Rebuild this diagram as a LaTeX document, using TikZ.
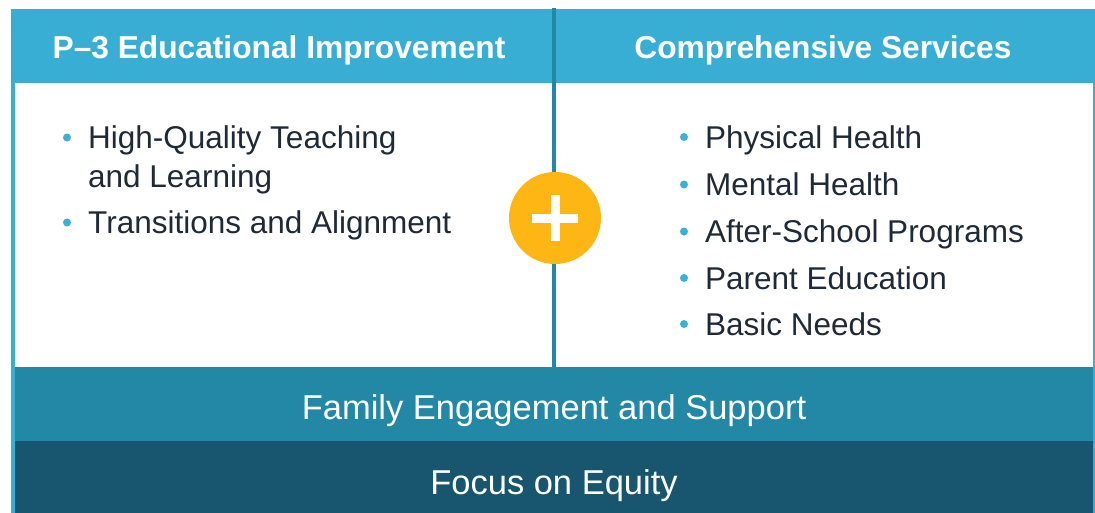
\documentclass[tikz,border=0pt]{standalone}
\usepackage{fontspec}
\setmainfont{Liberation Sans}
\definecolor{hdr}{HTML}{39AED5}
\definecolor{band}{HTML}{2387A6}
\definecolor{deep}{HTML}{17566E}
\definecolor{gold}{HTML}{FDB614}
\definecolor{ink}{HTML}{1F2A37}
\definecolor{dot}{HTML}{3BB1DA}
\tikzset{
  hdrtext/.style={text=white,font=\fontsize{31.7}{36}\selectfont\bfseries,inner sep=0pt,anchor=base},
  item/.style={text=ink,font=\fontsize{31.5}{38}\selectfont,inner sep=0pt,anchor=base west},
  bandtext/.style={text=white,font=\fontsize{34.5}{40}\selectfont,inner sep=0pt,anchor=base},
  bul/.style={circle,fill=dot,inner sep=0pt,minimum size=8pt},
}
\begin{document}
\begin{tikzpicture}[x=1pt,y=-1pt]
\useasboundingbox (0,0) rectangle (1095,512);
% frame and bands
\fill[hdr] (10.7,9) rectangle (1100,515);
\fill[white] (14.7,83) rectangle (1093,367);
\fill[band] (14.7,367) rectangle (1093,441);
\fill[deep] (14.7,441) rectangle (1093,515);
% divider
\coordinate (dtop) at (553.7,8);
\coordinate (dbot) at (553.7,367);
\draw[band,line width=4pt] (dtop) -- (dbot);
% headers
\node[hdrtext] (h1) at (279,58) {P–3 Educational Improvement};
\node[hdrtext] (h2) at (823,58) {Comprehensive Services};
% left items
\node[bul] (b1) at (67,137.5) {};
\node[item] (l1) at (88,148.5) {High-Quality Teaching};
\node[item] (l1b) at (88,187.5) {and Learning};
\node[bul] (b2) at (67,222.5) {};
\node[item] (l2) at (88,233.5) {Transitions and Alignment};
% right items
\node[bul] (r1d) at (684,137) {};
\node[item] (r1) at (705,148) {Physical Health};
\node[bul] (r2d) at (684,184.5) {};
\node[item] (r2) at (705,195.5) {Mental Health};
\node[bul] (r3d) at (684,231.5) {};
\node[item] (r3) at (705,242.5) {After-School Programs};
\node[bul] (r4d) at (684,278) {};
\node[item] (r4) at (705,289) {Parent Education};
\node[bul] (r5d) at (684,324) {};
\node[item] (r5) at (705,335) {Basic Needs};
% plus
\node[circle,fill=gold,minimum size=92pt,inner sep=0pt] (plus) at (555,218) {};
\fill[white] ([xshift=-23pt,yshift=-4.5pt]plus.center) rectangle ([xshift=23pt,yshift=4.5pt]plus.center);
\fill[white] ([xshift=-4.5pt,yshift=-23pt]plus.center) rectangle ([xshift=4.5pt,yshift=23pt]plus.center);
% bands text
\node[bandtext] (fam) at (554,419) {Family Engagement and Support};
\node[bandtext] (eq) at (554,494) {Focus on Equity};
\end{tikzpicture}
\end{document}
